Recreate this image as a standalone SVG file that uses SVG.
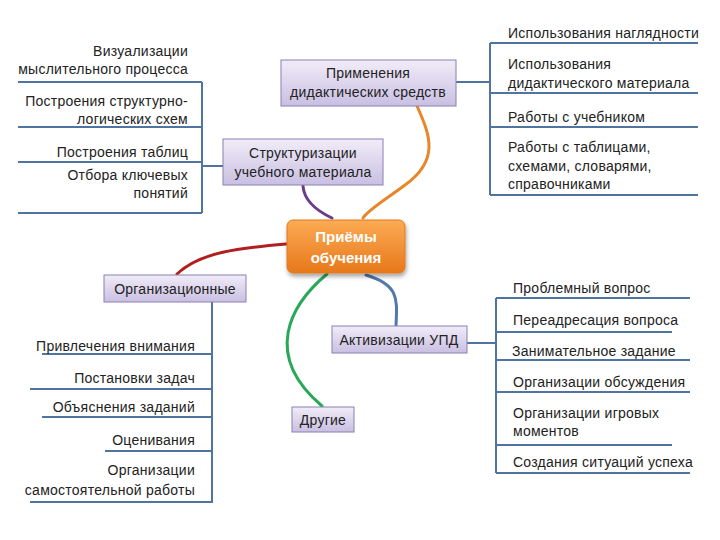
<svg xmlns="http://www.w3.org/2000/svg" width="720" height="540" viewBox="0 0 720 540">
<defs>
<linearGradient id="lav" x1="0" y1="0" x2="0" y2="1"><stop offset="0" stop-color="#f1ecf8"/><stop offset="1" stop-color="#c9bfe2"/></linearGradient>
<linearGradient id="org" x1="0" y1="0" x2="0" y2="1"><stop offset="0" stop-color="#fbab55"/><stop offset="1" stop-color="#e8781a"/></linearGradient>
<filter id="sh" x="-20%" y="-20%" width="140%" height="150%"><feDropShadow dx="1" dy="3" stdDeviation="2" flood-color="#000" flood-opacity="0.35"/></filter>
<style>
text{font-family:"Liberation Sans",Arial,sans-serif;font-size:14px;letter-spacing:0.25px;fill:#222}
.r{text-anchor:end}
.c{text-anchor:middle}
.box{fill:url(#lav);stroke:#8a80b4;stroke-width:1}
.ln{stroke:#4f74a0;stroke-width:2;fill:none}
.cv{fill:none;stroke-width:3;stroke-linecap:round}
.ctr{font-size:15px;font-weight:bold;fill:#fff;letter-spacing:0}
</style>
</defs>
<rect width="720" height="540" fill="#fff"/>
<g id="connectors">
<path class="cv" stroke="#e8862a" d="M417,106 C430,135 440,160 405,185 C385,200 368,210 363,218"/>
<path class="cv" stroke="#6a3d8c" d="M303,186 C304,200 315,210 332,218"/>
<path class="cv" stroke="#b01e1e" d="M286,244 C240,248 200,252 177,274"/>
<path class="cv" stroke="#2aa85a" d="M327,274 C290,305 262,355 322,406"/>
<path class="cv" stroke="#4f7aaa" d="M366,275 C400,285 397,300 396,326"/>
<path class="ln" d="M456,82 H490"/>
<path class="ln" d="M202,166 H223"/>
<path class="ln" d="M467,343 H496"/>
<path class="ln" d="M212,302 V503"/>
</g>
<g id="bracket-top-left">
<path class="ln" d="M202,82 V213 M18,82 H202 M18,127 H202 M18,162 H202 M18,213 H202"/>
<text class="r" x="188" y="56">Визуализации</text>
<text class="r" x="188" y="74">мыслительного процесса</text>
<text class="r" x="188" y="106">Построения структурно-</text>
<text class="r" x="188" y="124">логических схем</text>
<text class="r" x="188" y="157">Построения таблиц</text>
<text class="r" x="188" y="180">Отбора ключевых</text>
<text class="r" x="188" y="198">понятий</text>
</g>
<g id="bracket-top-right">
<path class="ln" d="M490,43 V195 M490,43 H698 M490,93 H698 M490,127 H698 M490,195 H698"/>
<text x="508" y="38">Использования наглядности</text>
<text x="508" y="69">Использования</text>
<text x="508" y="88">дидактического материала</text>
<text x="508" y="122">Работы с учебником</text>
<text x="508" y="152">Работы с таблицами,</text>
<text x="508" y="171">схемами, словарями,</text>
<text x="508" y="189">справочниками</text>
</g>
<g id="bracket-bottom-left">
<path class="ln" d="M42,354 H212 M30,389 H212 M42,417 H212 M105,451 H212 M30,502 H212"/>
<text class="r" x="195" y="351">Привлечения внимания</text>
<text class="r" x="195" y="383">Постановки задач</text>
<text class="r" x="195" y="412">Объяснения заданий</text>
<text class="r" x="195" y="445">Оценивания</text>
<text class="r" x="195" y="475">Организации</text>
<text class="r" x="195" y="495">самостоятельной  работы</text>
</g>
<g id="bracket-bottom-right">
<path class="ln" d="M496,298 V473 M496,298 H690 M496,332 H672 M496,360 H690 M496,392 H690 M496,445 H672 M496,473 H690"/>
<text x="513" y="293">Проблемный вопрос</text>
<text x="513" y="325">Переадресация вопроса</text>
<text x="512" y="356">Занимательное задание</text>
<text x="513" y="387">Организации обсуждения</text>
<text x="513" y="418">Организации игровых</text>
<text x="513" y="436">моментов</text>
<text x="513" y="467">Создания ситуаций успеха</text>
</g>
<g id="node-center">
<rect x="287" y="220" width="118" height="53" rx="6" fill="url(#org)" stroke="#e07a1e" filter="url(#sh)"/>
<text class="c ctr" x="346" y="242">Приёмы</text>
<text class="c ctr" x="346" y="263">обучения</text>
</g>
<g id="node-primenenia">
<rect class="box" x="281" y="60" width="175" height="46"/>
<text class="c" x="368" y="78">Применения</text>
<text class="c" x="368" y="97">дидактических средств</text>
</g>
<g id="node-struct">
<rect class="box" x="223" y="139" width="160" height="46"/>
<text class="c" x="303" y="158">Структуризации</text>
<text class="c" x="303" y="177">учебного материала</text>
</g>
<g id="node-org">
<rect class="box" x="104" y="275" width="142" height="27"/>
<text class="c" x="175" y="294">Организационные</text>
</g>
<g id="node-aktiv">
<rect class="box" x="332" y="326" width="135" height="27"/>
<text class="c" x="399" y="345">Активизации УПД</text>
</g>
<g id="node-drugie">
<rect class="box" x="292" y="407" width="62" height="25"/>
<text class="c" x="323" y="425">Другие</text>
</g>
</svg>
